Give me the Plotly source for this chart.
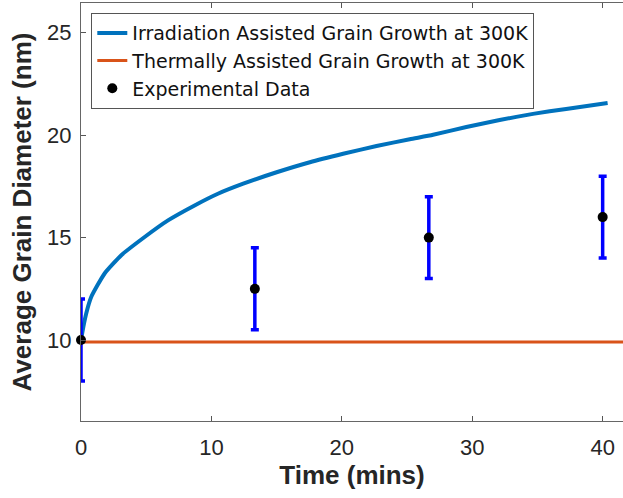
import plotly.graph_objects as go

# Irradiation assisted grain growth curve
t_irr = [0, 0.18, 0.4, 0.79, 1.81, 3.09, 4.88, 6.67, 8.71, 10.5, 12.44, 15.0,
         17.55, 20.1, 22.66, 25.21, 27.0, 29.55, 32.1, 34.66, 37.2, 40.38]
d_irr = [10, 10.65, 11.3, 12.11, 13.25, 14.14, 15.03, 15.84, 16.57, 17.14, 17.63,
         18.19, 18.68, 19.09, 19.47, 19.8, 20.02, 20.4, 20.74, 21.04, 21.28, 21.57]

# Thermally assisted grain growth (flat)
t_th = [0, 45]
d_th = [9.9, 9.9]

# Experimental data
t_exp = [0, 13.33, 26.67, 40]
d_exp = [10, 12.5, 15, 16]
err_exp = [2, 2, 2, 2]

x_ticks = [0, 10, 20, 30, 40]
y_ticks = [10, 15, 20, 25]

FONT = "Liberation Sans, Arial, Helvetica, sans-serif"
LEG_FONT = "DejaVu Sans, Liberation Sans, sans-serif"

fig = go.Figure()
fig.add_trace(go.Scatter(
    x=t_irr, y=d_irr, mode="lines", name="Irradiation Assisted Grain Growth at 300K",
    line=dict(color="#0072BD", width=4, shape="spline", smoothing=0.5)))
fig.add_trace(go.Scatter(
    x=t_th, y=d_th, mode="lines", name="Thermally Assisted Grain Growth at 300K",
    line=dict(color="#D95319", width=3)))
fig.add_trace(go.Scatter(
    x=t_exp, y=d_exp, mode="markers", name="Experimental Data",
    marker=dict(color="black", size=10),
    error_y=dict(type="data", array=err_exp, color="#0000FF", thickness=3.5, width=4),
    cliponaxis=False))

fig.update_layout(
    width=623, height=498,
    margin=dict(l=81, r=0, t=3, b=77),
    paper_bgcolor="white", plot_bgcolor="white",
    font=dict(family=FONT, color="#262626", size=22),
    showlegend=True,
    legend=dict(x=0.019, y=0.976, xanchor="left", yanchor="top",
                bgcolor="white", bordercolor="#555555", borderwidth=1,
                font=dict(family=LEG_FONT, size=19, color="#111111"),
                tracegroupgap=0, itemwidth=30),
    xaxis=dict(range=[0, 41.56], tickvals=x_ticks, ticks="inside", ticklen=5,
               tickcolor="#555555", showline=True, linecolor="#666666", linewidth=1,
               mirror="ticks", showgrid=False, zeroline=False,
               ticklabelstandoff=7,
               title=dict(text="<b>Time (mins)</b>", font=dict(size=26, color="#262626"),
                          standoff=5)),
    yaxis=dict(range=[6.05, 26.45], tickvals=y_ticks, ticks="inside", ticklen=5,
               tickcolor="#555555", showline=True, linecolor="#666666", linewidth=1,
               mirror=False, showgrid=False, zeroline=False,
               ticklabelstandoff=4,
               title=dict(text="<b>Average Grain Diameter (nm)</b>",
                          font=dict(size=26, color="#262626"), standoff=8)),
)

fig.write_html("out.html")
